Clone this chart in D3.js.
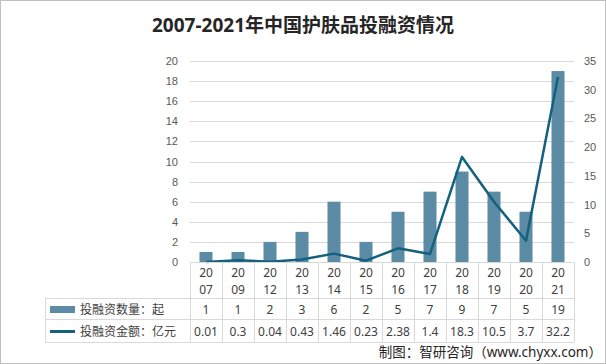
<!DOCTYPE html>
<html>
<head>
<meta charset="utf-8">
<script src="https://cdn.jsdelivr.net/npm/d3@7"></script>
<style>
  body { margin: 0; background: #fff; }
  svg { display: block; font-family: "Noto Sans", "Noto Sans CJK SC", sans-serif; }
  .tick-label { fill: #595959; font-size: 11px; }
  .cell-text { fill: #404040; font-size: 12px; }
</style>
</head>
<body>
<svg id="chart" width="606" height="364"></svg>
<script>
const years = ['2007', '2009', '2012', '2013', '2014', '2015', '2016', '2017', '2018', '2019', '2020', '2021'];
const dealCount = [1, 1, 2, 3, 6, 2, 5, 7, 9, 7, 5, 19];
const dealAmount = [0.01, 0.3, 0.04, 0.43, 1.46, 0.23, 2.38, 1.4, 18.3, 10.5, 3.7, 32.2];
const amountLabels = ['0.01', '0.3', '0.04', '0.43', '1.46', '0.23', '2.38', '1.4', '18.3', '10.5', '3.7', '32.2'];
const leftTicks = d3.range(0, 21, 2);
const rightTicks = d3.range(0, 36, 5);

const barColor = '#5b8ba5';
const lineColor = '#13607f';
const gridColor = '#d9d9d9';

const svg = d3.select('#chart');
const plot = { left: 190, right: 574, top: 61, bottom: 262 };
const rowY = [262, 298, 319, 342];
const legendLeft = 45;

svg.append('rect')
  .attr('x', 0.5).attr('y', 0.5).attr('width', 605).attr('height', 363)
  .attr('fill', '#fff').attr('stroke', '#bfbfbf');

svg.append('text')
  .attr('x', 303).attr('y', 32)
  .attr('text-anchor', 'middle')
  .attr('font-size', 19).attr('font-weight', 'bold').attr('fill', '#262626')
  .text('2007-2021年中国护肤品投融资情况');

const x = d3.scaleBand().domain(years).range([plot.left, plot.right]).paddingInner(0).paddingOuter(0);
const yLeft = d3.scaleLinear().domain([0, 20]).range([plot.bottom, plot.top]);
const yRight = d3.scaleLinear().domain([0, 35]).range([plot.bottom, plot.top]);

// gridlines
svg.append('g')
  .selectAll('line')
  .data(leftTicks)
  .join('line')
  .attr('x1', plot.left).attr('x2', plot.right)
  .attr('y1', (d) => Math.round(yLeft(d)) + 0.5)
  .attr('y2', (d) => Math.round(yLeft(d)) + 0.5)
  .attr('stroke', gridColor);

// left axis
const leftAxis = svg.append('g')
  .attr('transform', `translate(${plot.left - 12},0)`)
  .call(d3.axisLeft(yLeft).tickValues(leftTicks).tickSize(0).tickPadding(0));
leftAxis.select('.domain').remove();
leftAxis.selectAll('text').attr('class', 'tick-label').attr('font-family', null).attr('font-size', null).attr('fill', null);

// right axis
const rightAxis = svg.append('g')
  .attr('transform', `translate(${plot.right + 10},0)`)
  .call(d3.axisRight(yRight).tickValues(rightTicks).tickSize(0).tickPadding(0));
rightAxis.select('.domain').remove();
rightAxis.selectAll('text').attr('class', 'tick-label').attr('font-family', null).attr('font-size', null).attr('fill', null);

// bars
const barWidth = 13;
svg.append('g')
  .selectAll('rect')
  .data(years)
  .join('rect')
  .attr('x', (d) => x(d) + x.bandwidth() / 2 - barWidth / 2)
  .attr('y', (d, i) => yLeft(dealCount[i]))
  .attr('width', barWidth)
  .attr('height', (d, i) => plot.bottom - yLeft(dealCount[i]))
  .attr('fill', barColor);

// line
const line = d3.line()
  .x((d, i) => x(years[i]) + x.bandwidth() / 2)
  .y((d) => yRight(d));

svg.append('path')
  .datum(dealAmount)
  .attr('d', line)
  .attr('fill', 'none')
  .attr('stroke', lineColor)
  .attr('stroke-width', 2.5)
  .attr('stroke-linejoin', 'round');

// data table
const table = svg.append('g').attr('stroke', gridColor).attr('fill', 'none');
table.append('line').attr('x1', plot.left).attr('x2', plot.right).attr('y1', rowY[0] + 0.5).attr('y2', rowY[0] + 0.5);
rowY.slice(1).forEach((y) => {
  table.append('line').attr('x1', legendLeft).attr('x2', plot.right).attr('y1', y + 0.5).attr('y2', y + 0.5);
});
table.append('line').attr('x1', legendLeft + 0.5).attr('x2', legendLeft + 0.5).attr('y1', rowY[1]).attr('y2', rowY[3]);
years.forEach((yr) => {
  table.append('line').attr('x1', Math.round(x(yr)) + 0.5).attr('x2', Math.round(x(yr)) + 0.5).attr('y1', rowY[0]).attr('y2', rowY[3]);
});
table.append('line').attr('x1', plot.right + 0.5).attr('x2', plot.right + 0.5).attr('y1', rowY[0]).attr('y2', rowY[3]);

const cells = svg.append('g').attr('text-anchor', 'middle');
years.forEach((yr, i) => {
  const cx = x(yr) + x.bandwidth() / 2;
  cells.append('text').attr('class', 'cell-text').attr('x', cx).attr('y', 277).text(yr.slice(0, 2));
  cells.append('text').attr('class', 'cell-text').attr('x', cx).attr('y', 294).text(yr.slice(2));
  cells.append('text').attr('class', 'cell-text').attr('x', cx).attr('y', 314).text(dealCount[i]);
  cells.append('text').attr('class', 'cell-text').attr('x', cx).attr('y', 336).text(amountLabels[i]);
});

// legend keys
svg.append('rect').attr('x', 50).attr('y', 306).attr('width', 25).attr('height', 7).attr('fill', barColor);
svg.append('text').attr('class', 'cell-text').attr('x', 80).attr('y', 314).text('投融资数量：起');
svg.append('line').attr('x1', 50).attr('x2', 75).attr('y1', 331.5).attr('y2', 331.5).attr('stroke', lineColor).attr('stroke-width', 3);
svg.append('text').attr('class', 'cell-text').attr('x', 80).attr('y', 336).text('投融资金额：亿元');

svg.append('text')
  .attr('x', 602).attr('y', 357)
  .attr('text-anchor', 'end')
  .attr('font-size', 13.5).attr('fill', '#262626')
  .text('制图：智研咨询（www.chyxx.com）');
</script>
</body>
</html>
